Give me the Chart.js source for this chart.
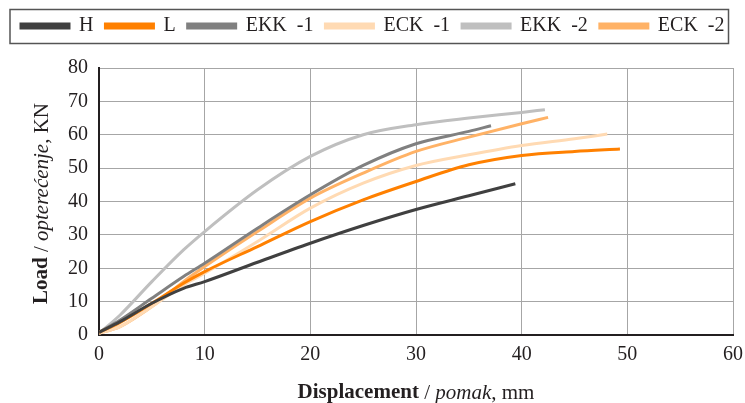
<!DOCTYPE html>
<html>
<head>
<meta charset="utf-8">
<script src="https://cdn.jsdelivr.net/npm/chart.js@4.4.1/dist/chart.umd.min.js"></script>
<style>
  html, body { margin: 0; padding: 0; background: #fff; }
  #wrap { width: 745px; height: 403px; }
</style>
</head>
<body>
<div id="wrap"><canvas id="loadChart" width="745" height="403"></canvas></div>
<script>
// displacement (mm) / load (kN)
const hX = [0, 2, 5, 8, 10, 15, 20, 25, 30, 35, 39.4];
const hY = [0.8, 4, 9.5, 14, 16, 21.8, 27.5, 32.8, 37.6, 41.7, 45.3];

const lX = [0, 2, 5, 8, 10, 15, 20, 25, 30, 35, 40, 45, 49.3];
const lY = [0.8, 3.8, 9.5, 15.5, 19, 26.5, 34, 40.5, 46, 51, 53.8, 55, 55.7];

const ekk1X = [0, 2, 5, 8, 10, 15, 20, 25, 30, 35, 37.1];
const ekk1Y = [0.8, 4.5, 11, 17.5, 21.5, 32, 42, 50.8, 57.3, 61, 62.7];

const eck1X = [0, 2, 5, 8, 10, 15, 20, 25, 30, 35, 40, 45, 48.1];
const eck1Y = [0.5, 2.5, 8.5, 15, 18.5, 28, 38, 45.5, 50.8, 54, 56.8, 58.8, 60.2];

const ekk2X = [0, 2, 5, 8, 10, 15, 20, 25, 30, 35, 40, 42.2];
const ekk2Y = [0.5, 6, 16, 25.5, 31, 43.5, 53.5, 60, 63, 65, 66.7, 67.5];

const eck2X = [0, 2, 5, 8, 10, 15, 20, 25, 30, 35, 40, 42.5];
const eck2Y = [0.5, 2.5, 8.5, 16, 20.5, 31, 41, 48.5, 55, 59.3, 63.3, 65.2];

const xTicks = [0, 10, 20, 30, 40, 50, 60];
const yTicks = [0, 10, 20, 30, 40, 50, 60, 70, 80];

const serif = "'Liberation Serif', 'Times New Roman', serif";
const ink = '#231f20';
const legendLeft = 21;

function toPoints(xs, ys) {
    return xs.map((x, i) => ({ x: x, y: ys[i] }));
}

function series(label, xs, ys, color) {
    return {
        label: label,
        data: toPoints(xs, ys),
        borderColor: color,
        backgroundColor: color,
        borderWidth: 3,
        pointRadius: 0,
        fill: false,
        cubicInterpolationMode: 'monotone'
    };
}

// mixed bold / italic axis titles, drawn by hand
function drawParts(ctx, parts, cx, cy, rotate) {
    ctx.save();
    ctx.translate(cx, cy);
    if (rotate) ctx.rotate(-Math.PI / 2);
    let total = 0;
    parts.forEach(p => {
        ctx.font = p.font;
        total += ctx.measureText(p.text).width;
    });
    let x = -total / 2;
    ctx.fillStyle = ink;
    ctx.textBaseline = 'middle';
    ctx.textAlign = 'left';
    parts.forEach(p => {
        ctx.font = p.font;
        ctx.fillText(p.text, x, 0);
        x += ctx.measureText(p.text).width;
    });
    ctx.restore();
}

function legendShift(lg) {
    if (!lg.legendHitBoxes || !lg.legendHitBoxes.length) return 0;
    return legendLeft - lg.legendHitBoxes[0].left;
}

const titlesPlugin = {
    id: 'titles',
    beforeInit(chart) {
        const lg = chart.legend;
        const fit = lg.fit;
        lg.fit = function () {
            fit.bind(lg)();
            this.height += 26;
        };
        const draw = lg.draw;
        lg.draw = function () {
            const c = chart.ctx;
            c.save();
            c.translate(legendShift(lg), 4);
            draw.bind(lg)();
            c.restore();
        };
    },
    afterDraw(chart) {
        const ctx = chart.ctx;
        const area = chart.chartArea;
        const lg = chart.legend;
        if (lg && lg.legendHitBoxes.length) {
            const boxes = lg.legendHitBoxes;
            const dx = legendShift(lg);
            const last = boxes[boxes.length - 1];
            const left = boxes[0].left + dx - 11;
            const right = Math.min(last.left + last.width + dx + 4, 743);
            ctx.save();
            ctx.strokeStyle = '#555';
            ctx.lineWidth = 1.5;
            ctx.strokeRect(left, 9.5, right - left, 34);
            ctx.restore();
        }
        const fs = 21;
        drawParts(ctx, [
            { text: 'Displacement', font: 'bold ' + fs + 'px ' + serif },
            { text: ' / ', font: fs + 'px ' + serif },
            { text: 'pomak', font: 'italic ' + fs + 'px ' + serif },
            { text: ', mm', font: fs + 'px ' + serif }
        ], (area.left + area.right) / 2, 393, false);
        drawParts(ctx, [
            { text: 'Load', font: 'bold ' + fs + 'px ' + serif },
            { text: ' / ', font: fs + 'px ' + serif },
            { text: 'optere\u0107enje', font: 'italic ' + fs + 'px ' + serif },
            { text: ', KN', font: fs + 'px ' + serif }
        ], 42, (area.top + area.bottom) / 2 + 2, true);
    }
};

const ctx = document.getElementById('loadChart').getContext('2d');
new Chart(ctx, {
    type: 'line',
    data: {
        datasets: [
            series('H', hX, hY, '#404040'),
            series('L', lX, lY, '#ff8000'),
            series('EKK  -1', ekk1X, ekk1Y, '#808080'),
            series('ECK  -1', eck1X, eck1Y, '#ffdab3'),
            series('EKK  -2', ekk2X, ekk2Y, '#bfbfbf'),
            series('ECK  -2', eck2X, eck2Y, '#ffb266')
        ]
    },
    options: {
        responsive: false,
        animation: false,
        layout: { padding: { left: 0, right: 12, top: 0, bottom: 0 } },
        plugins: {
            legend: {
                display: true,
                position: 'top',
                labels: {
                    color: ink,
                    font: { family: serif, size: 20 },
                    boxWidth: 48,
                    boxHeight: 4,
                    padding: 12
                }
            },
            tooltip: { enabled: false }
        },
        scales: {
            x: {
                type: 'linear',
                min: xTicks[0],
                max: xTicks[xTicks.length - 1],
                afterBuildTicks: (scale) => { scale.ticks = xTicks.map(v => ({ value: v })); },
                afterFit: (scale) => {
                    scale.height = 68;
                    scale.paddingLeft = 0;
                    scale.paddingRight = 0;
                },
                ticks: {
                    color: ink,
                    font: { family: serif, size: 20 },
                    padding: 8,
                    maxRotation: 0
                },
                grid: { color: '#a6a6a6', lineWidth: 1, drawTicks: false },
                border: { color: ink, width: 2 }
            },
            y: {
                min: yTicks[0],
                max: yTicks[yTicks.length - 1],
                afterBuildTicks: (scale) => { scale.ticks = yTicks.map(v => ({ value: v })); },
                afterFit: (scale) => { scale.width = 99; },
                ticks: {
                    color: ink,
                    font: { family: serif, size: 20 },
                    padding: 11
                },
                grid: { color: '#a6a6a6', lineWidth: 1, drawTicks: false },
                border: { color: ink, width: 2 }
            }
        }
    },
    plugins: [titlesPlugin]
});
</script>
</body>
</html>
